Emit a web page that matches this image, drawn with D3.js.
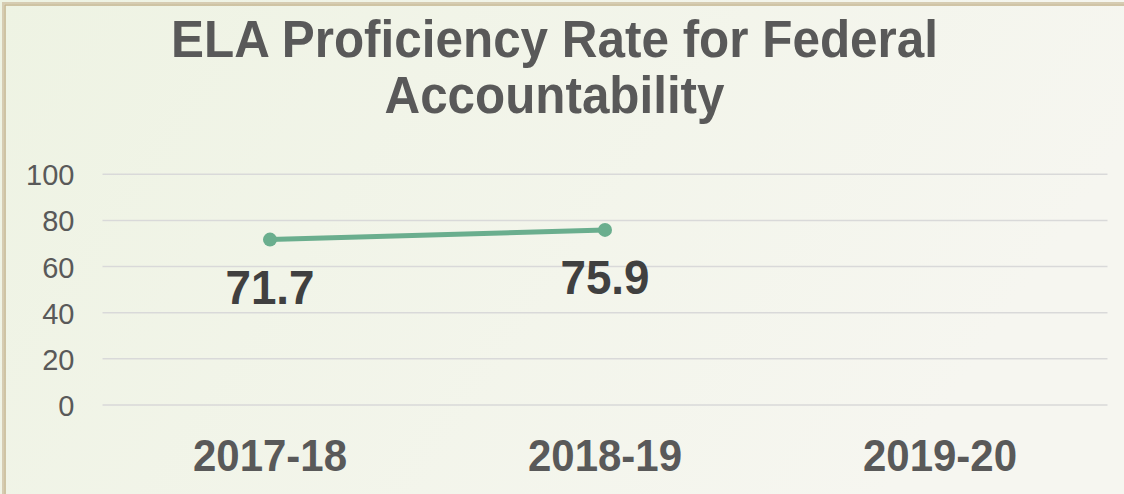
<!DOCTYPE html>
<html>
<head>
<meta charset="utf-8">
<script src="https://cdn.jsdelivr.net/npm/d3@7"></script>
<style>
  html, body { margin: 0; padding: 0; background: #f2f4ea; overflow: hidden; }
  svg { display: block; font-family: "Liberation Sans", Arial, sans-serif; }
</style>
</head>
<body>
<div id="chart"></div>
<script>
// 数据
const categories = ["2017-18", "2018-19", "2019-20"];
const values = [71.7, 75.9, null];
const yTicks = [0, 20, 40, 60, 80, 100];
const titleLines = ["ELA Proficiency Rate for Federal", "Accountability"];

const W = 1124, H = 494;
const plot = {left: 102.5, right: 1107.5, top: 174.3, bottom: 405};

const svg = d3.select("#chart").append("svg")
    .attr("width", W)
    .attr("height", H);

// 背景渐变
const defs = svg.append("defs");
const grad = defs.append("linearGradient")
    .attr("id", "bg")
    .attr("x1", "0%").attr("y1", "0%")
    .attr("x2", "100%").attr("y2", "30%");
grad.append("stop").attr("offset", "0%").attr("stop-color", "#eef3e3");
grad.append("stop").attr("offset", "100%").attr("stop-color", "#f6f6f0");

svg.append("rect")
    .attr("width", W).attr("height", H)
    .attr("fill", "url(#bg)");

// 边框
svg.append("rect")
    .attr("x", 3).attr("y", 3)
    .attr("width", W + 20).attr("height", H + 20)
    .attr("fill", "none")
    .attr("stroke", "#d6ccb2")
    .attr("stroke-width", 2);
svg.append("rect")
    .attr("x", 5).attr("y", 5)
    .attr("width", W + 20).attr("height", H + 20)
    .attr("fill", "none")
    .attr("stroke", "#c4b48e")
    .attr("stroke-width", 1.5);

// 标题（字形略窄）
svg.append("g").selectAll("text")
    .data(titleLines)
    .enter()
    .append("text")
    .attr("x", 554.5)
    .attr("y", (d, i) => 57 + i * 56)
    .attr("text-anchor", "middle")
    .attr("textLength", (d, i) => i === 0 ? 767 : 340)
    .attr("lengthAdjust", "spacingAndGlyphs")
    .style("font-size", "51px")
    .style("font-weight", "bold")
    .style("fill", "#595959")
    .text(d => d);

// 比例尺
const xScale = d3.scaleBand()
    .domain(categories)
    .range([plot.left, plot.right]);

const yScale = d3.scaleLinear()
    .domain([0, 100])
    .range([plot.bottom, plot.top]);

// 网格
svg.append("g")
    .selectAll("line")
    .data(yTicks)
    .enter()
    .append("line")
    .attr("x1", plot.left).attr("x2", plot.right)
    .attr("y1", d => yScale(d)).attr("y2", d => yScale(d))
    .style("stroke", "#d9d9d9")
    .style("stroke-width", 1.5);

// y 轴
const yAxis = svg.append("g")
    .attr("transform", `translate(${plot.left},0)`)
    .call(d3.axisLeft(yScale).tickValues(yTicks).tickSize(0).tickPadding(28));
yAxis.select(".domain").remove();
yAxis.selectAll("text")
    .style("font-size", "29px")
    .style("fill", "#595959")
    .style("font-family", "\"Liberation Sans\", Arial, sans-serif")
    .attr("dy", "0.36em");

// x 轴
const xAxis = svg.append("g")
    .attr("transform", `translate(0,${plot.bottom})`)
    .call(d3.axisBottom(xScale).tickSize(0).tickPadding(35));
xAxis.select(".domain").remove();
xAxis.selectAll("text")
    .attr("textLength", 154)
    .attr("lengthAdjust", "spacingAndGlyphs")
    .style("font-size", "44px")
    .style("font-weight", "bold")
    .style("fill", "#595959")
    .style("font-family", "\"Liberation Sans\", Arial, sans-serif");

// 折线
const pts = categories.map((c, i) => ({cat: c, v: values[i]})).filter(d => d.v !== null);
const line = d3.line()
    .x(d => xScale(d.cat) + xScale.bandwidth() / 2)
    .y(d => yScale(d.v));

svg.append("path")
    .datum(pts)
    .attr("d", line)
    .style("fill", "none")
    .style("stroke", "#6aae8e")
    .style("stroke-width", 5)
    .style("stroke-linecap", "round");

svg.append("g").selectAll("circle")
    .data(pts)
    .enter()
    .append("circle")
    .attr("cx", d => xScale(d.cat) + xScale.bandwidth() / 2)
    .attr("cy", d => yScale(d.v))
    .attr("r", 7)
    .style("fill", "#6aae8e");

// 数据标签
svg.append("g").selectAll("text")
    .data(pts)
    .enter()
    .append("text")
    .attr("x", d => xScale(d.cat) + xScale.bandwidth() / 2)
    .attr("y", d => yScale(d.v) + 64)
    .attr("text-anchor", "middle")
    .attr("textLength", 89)
    .attr("lengthAdjust", "spacingAndGlyphs")
    .style("font-size", "48px")
    .style("font-weight", "bold")
    .style("fill", "#404040")
    .text(d => d.v.toFixed(1));
</script>
</body>
</html>
